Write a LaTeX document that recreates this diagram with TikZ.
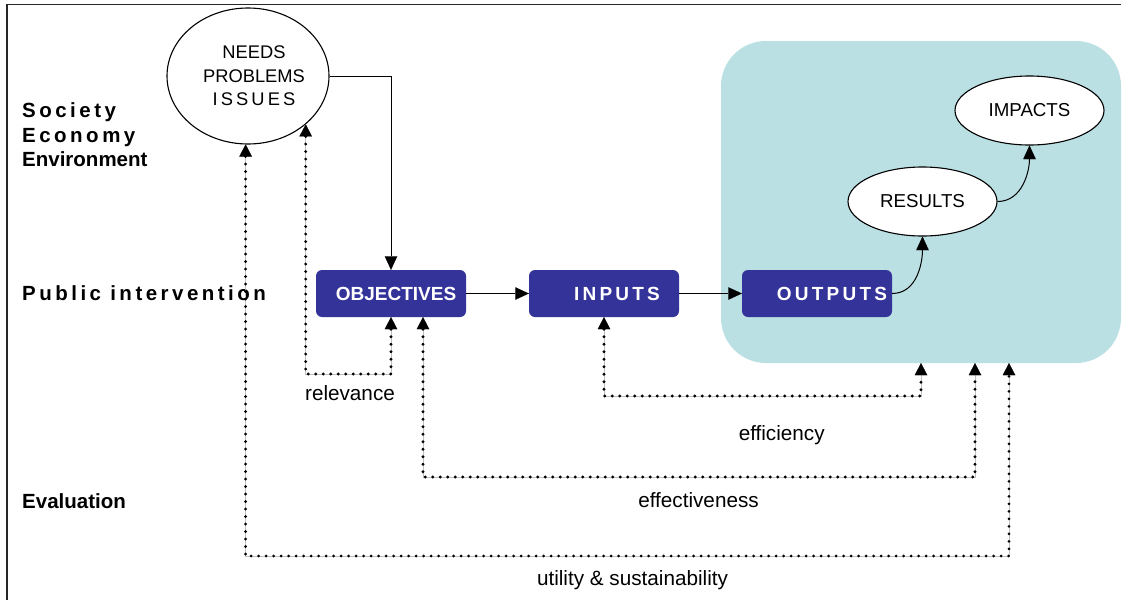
\documentclass[tikz,border=0pt]{standalone}
\usepackage{fontspec}
\setmainfont{Liberation Sans}
% letter-spaced variant for the tracked headings
\newfontfamily\trackedfont[LetterSpace=17]{Liberation Sans}
\usetikzlibrary{arrows.meta,shapes.geometric}
\definecolor{zonefill}{RGB}{186,224,227}
\definecolor{stageblue}{RGB}{51,51,153}
\begin{document}
\begin{tikzpicture}[x=1pt,y=-1pt,
  frameline/.style={draw=black!85, line width=1.3pt},
  zone/.style={fill=zonefill, rounded corners=45pt, minimum width=400pt, minimum height=322pt, inner sep=0pt},
  stage/.style={fill=stageblue, rounded corners=6pt, minimum width=150pt, minimum height=47pt, inner sep=0pt},
  stagetext/.style={text=white, inner sep=0pt, font=\fontsize{19}{22}\selectfont\bfseries},
  oval/.style={ellipse, draw=black, line width=1.1pt, fill=white, inner sep=0pt, font=\fontsize{18.7}{22}\selectfont},
  ovaltext/.style={inner sep=0pt, align=center, font=\fontsize{18.3}{23.5}\selectfont},
  rowlabel/.style={anchor=base west, inner sep=0pt, font=\fontsize{20.5}{24}\selectfont\bfseries},
  critlabel/.style={anchor=base, inner sep=0pt, font=\fontsize{20.7}{24}\selectfont},
  flow/.style={draw=black, line width=1pt, -{Triangle[length=13.5pt,width=12.5pt,line width=0.01pt]}},
  tipmark/.tip={Triangle[length=12pt,width=12.5pt,line width=0.01pt]},
  dotconn/.style={draw=black, line width=3.2pt, line cap=round, dash pattern=on 0pt off 7.5pt,
    preaction={draw=gray!50, line width=1pt, solid, line cap=butt},
    tipmark-tipmark}
]
\useasboundingbox (0,0) rectangle (1122,600);
\fill[white] (0,0) rectangle (1122,600);

% outer frame (top and left edges)
\coordinate (frame-tl) at (7,4.5);
\coordinate (frame-tr) at (1121,4.5);
\coordinate (frame-bl) at (7,600);
\draw[frameline] (frame-tr) -- (frame-tl) -- (frame-bl);

% shaded zone of effects
\node[zone] (zone) at (921,202) {};

% row headings
\node[rowlabel] (society) at (22,117.3) {\trackedfont Society};
\node[rowlabel] (economy) at (22,142.7) {\trackedfont Economy};
\node[rowlabel] (environment) at (22,166.7) {Environment};
\node[rowlabel] (public) at (22,300.7) {\trackedfont Public intervention};
\node[rowlabel] (evaluation) at (22,508.5) {Evaluation};

% needs ellipse
\node[oval, minimum width=162pt, minimum height=136pt] (needs) at (248,76) {};
\node[ovaltext] (needs-text) at (254,76) {NEEDS\\PROBLEMS\\{\trackedfont ISSUES}};

% intervention chain
\node[stage] (objectives) at (391,293.5) {};
\node[stage] (inputs) at (604,293.5) {};
\node[stage] (outputs) at (817,293.5) {};
\node[stagetext] (objectives-text) at (396,294) {OBJECTIVES};
\node[stagetext] (inputs-text) at (617,294) {\trackedfont INPUTS};
\node[stagetext] (outputs-text) at (832,294) {\trackedfont OUTPUTS};

% effects
\node[oval, minimum width=149pt, minimum height=69pt] (results) at (922.5,201.5) {RESULTS};
\node[oval, minimum width=149pt, minimum height=69pt] (impacts) at (1029.5,110.5) {IMPACTS};

% solid flow
\draw[flow] (needs.east) -| (objectives.north);
\draw[flow] (objectives.east) -- (inputs.west);
\draw[flow] (inputs.east) -- (outputs.west);
\draw[flow] (outputs.east) to[out=0,in=-90] (results.south);
\draw[flow] (results.east) to[out=0,in=-90] (impacts.south);

% evaluation criteria rows
\coordinate (relrow) at (0,374);
\coordinate (effrow) at (0,396);
\coordinate (efvrow) at (0,477);
\coordinate (utlrow) at (0,556);
\coordinate (efv-start) at ([xshift=32pt]objectives.south);
\coordinate (efv-end) at ([xshift=54pt]zone.south);
\coordinate (utl-end) at ([xshift=88pt]zone.south);

\draw[dotconn] (objectives.south) -- (objectives.south |- relrow) -| (needs.-40);
\draw[dotconn] (inputs.south) -- (inputs.south |- effrow) -| (zone.south);
\draw[dotconn] (efv-start) -- (efv-start |- efvrow) -| (efv-end);
\draw[dotconn] (needs.-92) -- (needs.-92 |- utlrow) -| (utl-end);

\node[critlabel] (relevance) at (350,400.7) {relevance};
\node[critlabel] (efficiency) at (781.7,440) {efficiency};
\node[critlabel] (effectiveness) at (698.5,507.7) {effectiveness};
\node[critlabel] (utility) at (632.5,585) {utility \& sustainability};
\end{tikzpicture}
\end{document}
